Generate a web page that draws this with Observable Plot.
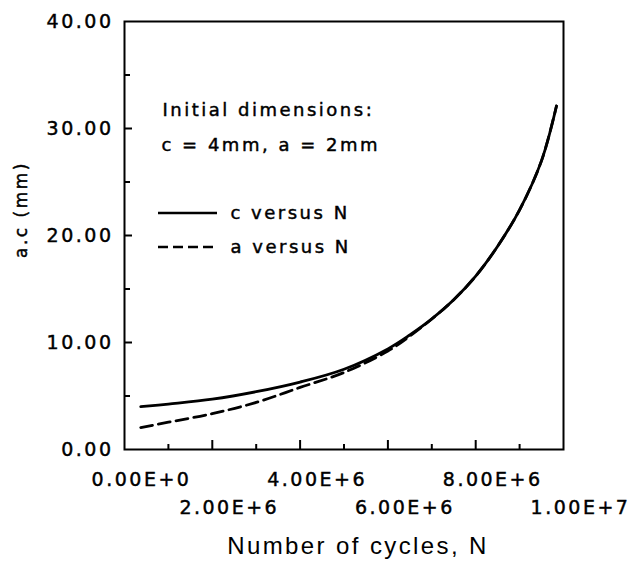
<!DOCTYPE html>
<html><head><meta charset="utf-8">
<script src="https://cdn.jsdelivr.net/npm/d3@7"></script>
<script src="https://cdn.jsdelivr.net/npm/@observablehq/plot@0.6"></script>
<style>
body{margin:0;background:#fff}
svg text{letter-spacing:2.5px;stroke:black;stroke-width:0.45px}
</style>
</head><body><div id="chart"></div>
<script>
// Number of cycles N
const cycles = [0.37e6, 1.0e6, 2.0e6, 3.0e6, 4.0e6, 5.0e6, 6.0e6, 6.5e6, 7.0e6, 7.5e6, 8.0e6, 8.5e6, 9.0e6, 9.5e6, 9.84e6];
// crack length c (mm)
const cValues = [4.0, 4.25, 4.7, 5.4, 6.3, 7.5, 9.4, 10.7, 12.2, 14.0, 16.2, 19.0, 22.4, 27.0, 32.1];
// crack depth a (mm)
const aValues = [2.05, 2.55, 3.35, 4.4, 5.8, 7.2, 9.2, 10.6, 12.2, 14.0, 16.2, 19.0, 22.4, 27.0, 32.1];

const xTicksRow1 = [0, 4e6, 8e6];
const xLabelsRow1 = ["0.00E+0", "4.00E+6", "8.00E+6"];
const xTicksRow2 = [2e6, 6e6, 1e7];
const xLabelsRow2 = ["2.00E+6", "6.00E+6", "1.00E+7"];
const xMajorTicks = [2e6, 4e6, 6e6, 8e6];
const xMinorTicks = [1e6, 3e6, 5e6, 7e6, 9e6];
const yTicks = [0, 10, 20, 30, 40];
const yLabels = ["0.00", "10.00", "20.00", "30.00", "40.00"];
const yMajorTicks = [10, 20, 30];
const yMinorTicks = [5, 15, 25, 35];

const seriesNames = ["c versus N", "a versus N"];
const xTitle = "Number of cycles, N";
const yTitle = "a.c (mm)";
const note1 = "Initial dimensions:";
const note2 = "c = 4mm, a = 2mm";

const cData = cycles.map((n, i) => ({N: n, v: cValues[i]}));
const aData = cycles.map((n, i) => ({N: n, v: aValues[i]}));

const W = 635, H = 564, mL = 124, mR = 72, mT = 21, mB = 115;
const plotW = W - mL - mR, plotH = H - mT - mB;
const fmt = (ticks, labels) => d => labels[ticks.indexOf(d)];

const svg = Plot.plot({
  width: W, height: H,
  marginLeft: mL, marginRight: mR, marginTop: mT, marginBottom: mB,
  x: {domain: [0, 1e7]},
  y: {domain: [0, 40]},
  style: {fontFamily: "DejaVu Sans", fontSize: "18px", color: "black", background: "white"},
  marks: [
    Plot.frame({stroke: "black", strokeWidth: 2}),
    Plot.tickX(xMajorTicks, {x: d => d, insetTop: plotH - 9, strokeWidth: 2}),
    Plot.tickX(xMinorTicks, {x: d => d, insetTop: plotH - 5, strokeWidth: 2}),
    Plot.tickY(yMajorTicks, {y: d => d, insetRight: plotW - 8, strokeWidth: 2}),
    Plot.tickY(yMinorTicks, {y: d => d, insetRight: plotW - 6, strokeWidth: 2}),
    Plot.axisY({ticks: yTicks, tickFormat: fmt(yTicks, yLabels), tickSize: 0, tickPadding: 11, fontSize: 19, label: null}),
    Plot.axisX({ticks: xTicksRow1, tickFormat: fmt(xTicksRow1, xLabelsRow1), tickSize: 0, tickPadding: 23, dx: 17, fontSize: 19, label: null}),
    Plot.axisX({ticks: xTicksRow2, tickFormat: fmt(xTicksRow2, xLabelsRow2), tickSize: 0, tickPadding: 51, dx: 17, fontSize: 19, label: null}),
    Plot.line(aData, {x: "N", y: "v", stroke: "black", strokeWidth: 2.8, strokeDasharray: "12,6", curve: "catmull-rom"}),
    Plot.line(cData, {x: "N", y: "v", stroke: "black", strokeWidth: 2.8, curve: "catmull-rom"}),
    Plot.text([yTitle], {frameAnchor: "top-left", dx: -103, dy: 188, rotate: -90, fontSize: 17, textAnchor: "middle", lineAnchor: "middle"}),
    Plot.text([xTitle], {frameAnchor: "bottom", dx: 14, dy: 97, fontFamily: "Liberation Sans", fontSize: 24, textAnchor: "middle", lineAnchor: "middle"}),
    Plot.text([note1], {frameAnchor: "top-left", dx: 38, dy: 89, fontSize: 18, textAnchor: "start", lineAnchor: "middle"}),
    Plot.text([note2], {frameAnchor: "top-left", dx: 37, dy: 124, fontSize: 18, textAnchor: "start", lineAnchor: "middle"}),
    Plot.text([seriesNames[0]], {frameAnchor: "top-left", dx: 106, dy: 192, fontSize: 18, textAnchor: "start", lineAnchor: "middle"}),
    Plot.text([seriesNames[1]], {frameAnchor: "top-left", dx: 106, dy: 226, fontSize: 18, textAnchor: "start", lineAnchor: "middle"})
  ]
});

// title in a regular (non-thickened) sans
d3.select(svg).selectAll("text").filter(function() { return this.textContent === xTitle; })
  .style("stroke", "none").style("letter-spacing", "2.4px");

// legend swatches
const g = d3.select(svg).append("g").attr("stroke", "black").attr("stroke-width", 2.5);
g.append("line").attr("x1", mL + 34).attr("x2", mL + 93).attr("y1", mT + 192).attr("y2", mT + 192);
g.append("line").attr("x1", mL + 34).attr("x2", mL + 93).attr("y1", mT + 226).attr("y2", mT + 226).attr("stroke-dasharray", "10,5");

document.getElementById("chart").appendChild(svg);
</script>
</body></html>
